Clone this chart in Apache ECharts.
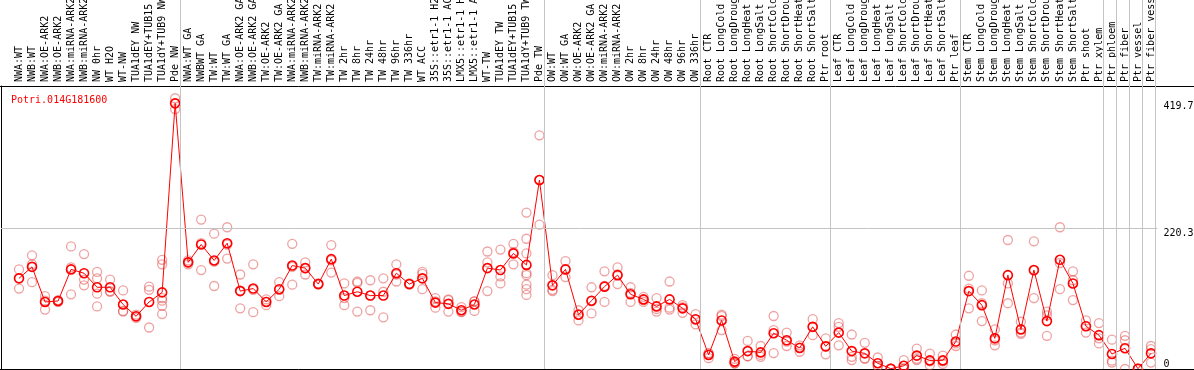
<!DOCTYPE html>
<html>
<head>
<meta charset="utf-8">
<script src="https://cdn.jsdelivr.net/npm/echarts@6/dist/echarts.min.js"></script>
<style>
html,body{margin:0;padding:0;background:#fff;}
#chart{width:1194px;height:370px;}
</style>
</head>
<body>
<div id="chart"></div>
<script>
// gene shown
var geneName = 'Potri.014G181600';

// sample names, left to right
var categories = [
  'NWA:WT','NWB:WT','NWA:OE-ARK2','NWB:OE-ARK2','NWA:miRNA-ARK2','NWB:miRNA-ARK2','NW 0hr','WT H2O','WT-NW',
  'TUA1dEY NW','TUA1dEY+TUB15 NW','TUA1dY+TUB9 NW','Pde NW',
  'NWA:WT GA','NWBWT GA','TW:WT','TW:WT GA','NWA:OE-ARK2 GA','NWB:OE-ARK2 GA','TW:OE-ARK2','TW:OE-ARK2 GA',
  'NWA:miRNA-ARK2','NWB:miRNA-ARK2','TW:miRNA-ARK2','TW:miRNA-ARK2','TW 2hr','TW 8hr','TW 24hr','TW 48hr',
  'TW 96hr','TW 336hr','WT ACC','35S::etr1-1 H2O','35S::etr1-1 ACC','LMX5::etr1-1 H2O','LMX5::etr1-1 ACC',
  'WT-TW','TUA1dEY TW','TUA1dEY+TUB15 TW','TUA1dY+TUB9 TW','Pde TW',
  'OW:WT','OW:WT GA','OW:OE-ARK2','OW:OE-ARK2 GA','OW:miRNA-ARK2','OW:miRNA-ARK2','OW 2hr','OW 8hr',
  'OW 24hr','OW 48hr','OW 96hr','OW 336hr',
  'Root CTR','Root LongCold','Root LongDrought','Root LongHeat','Root LongSalt','Root ShortCold',
  'Root ShortDrought','Root ShortHeat','Root ShortSalt','Ptr root',
  'Leaf CTR','Leaf LongCold','Leaf LongDrought','Leaf LongHeat','Leaf LongSalt','Leaf ShortCold',
  'Leaf ShortDrought','Leaf ShortHeat','Leaf ShortSalt','Ptr leaf',
  'Stem CTR','Stem LongCold','Stem LongDrought','Stem LongHeat','Stem LongSalt','Stem ShortCold',
  'Stem ShortDrought','Stem ShortHeat','Stem ShortSalt','Ptr shoot',
  'Ptr xylem','Ptr phloem','Ptr fiber','Ptr vessel','Ptr fiber vessel'
];

// mean expression per sample
var means = [
  142,160,105,106.5,156,150,128,128,101,82.5,
  105,120,416,167,195,170,197,122,126,105,
  125,162,158,133,172,115,121,115,115,150,
  133,142,104,102,92,101,158,155,181,163,
  296,131,156,85,107,129,147,117,109,98,
  109,95,78,22,76,11.5,28,26,56,45,
  33,66,35.5,57,28,24.5,9,0.5,5,21,
  13.5,13.5,43,122,100,48,147,62,155,75,
  171,134,67,53,23.5,32.5,0.5,24.5
];

// replicate values per sample
var replicates = [
  [156,142,126],[178,164,136],[114,107,93],[108,105,106],[192,159,117],[180,140,131],
  [152,142,118,98],[140,122,121],[123,91,90],[85,82,80],[129,124,65],[171,164,111,107,99,86],
  [424,416,407],[170,167,164],[234,197,155],[212,168,130],[222,195,173],[148,123,95],
  [164,124,89],[109,105,100],[136,124,114],[196,160,132],[167,158,148],[134,133,132],
  [194,170,151],[134,111,100],[137,135,90],[139,115,92],[142,121,81],[164,148,137],
  [134,133,132],[152,149,125],[111,106,96],[108,109,90],[97,89,90],[106,106,91],
  [184,167,122],[187,145,134],[196,183,164],[245,204,181,150,147,132,125,116],[366,296,226],
  [147,124,122],[169,156,144],[92,86,76],[128,106,87],[153,130,105],[159,148,133],
  [128,119,105],[113,108,105],[111,94,90],[137,96,93],[100,97,88],[86,77,70],
  [25,24,17],[85,83,61],[16,9,9],[44,20,20],[36,22,19],[83,61,25],[57,43,36],
  [37,34,27],[78,66,53],[48,35,23],[72,66,37],[54,19,14],[41,17,16],[18,5,4],
  [1,0,0],[14,1,0],[32,16,14],[24,12,6],[21,12,8],[54,40,36],[146,126,95],
  [123,103,75],[62,45,37],[202,134,103],[74,57,55],[200,154,111],[90,84,52],
  [222,166,125],[153,139,108],[76,67,57],[72,48,40],[46,13,10],[52,45,0],
  [1,0,0],[36,31,10]
];

// y tick labels
var yTickLabels = [220.3, 419.7];
var yZeroLabel = [0];
var gridLineValues = [220.3];

// index of first sample of each group (plus end)
var groupStarts = [0, 13, 41, 53, 63, 73, 84, 85, 86, 87, 88];

var yMax = 443.2;
var mono = 'DejaVu Sans Mono';

var repData = [];
replicates.forEach(function (vals, i) {
  vals.forEach(function (v) { repData.push([i, v]); });
});

var sepLines = groupStarts.map(function (k) { return { xAxis: k - 0.64 }; });
var hLines = gridLineValues.map(function (v) { return { yAxis: v }; });

var hiddenAxis = {
  axisLine: { show: false }, axisTick: { show: false },
  axisLabel: { show: false }, splitLine: { show: false }
};

var option = {
  animation: false,
  backgroundColor: '#fff',
  title: {
    text: geneName,
    left: 6, top: 90,
    textStyle: { color: '#ff0000', fontFamily: mono, fontSize: 10, fontWeight: 'normal' }
  },
  grid: [
    { left: 12.5, right: 36.5, top: 86, bottom: 1, outerBoundsMode: 'none' },   // data
    { left: 1, right: 36.5, top: 86, bottom: 1, outerBoundsMode: 'none' },      // frame + grid line
    { left: 12.5, right: 36.5, top: 0, bottom: 1, outerBoundsMode: 'none' },    // group separators
    { left: 0, right: 0, top: 86, bottom: 1, outerBoundsMode: 'none' }          // top / bottom rules
  ],
  xAxis: [
    {
      gridIndex: 0, type: 'category', data: categories, position: 'top',
      axisLine: { show: false }, axisTick: { show: false }, splitLine: { show: false },
      axisLabel: { interval: 0, rotate: 90, margin: 4, color: '#000', fontFamily: mono, fontSize: 10 }
    },
    Object.assign({ gridIndex: 1, type: 'value', min: 0, max: 1, show: false }, hiddenAxis),
    Object.assign({ gridIndex: 2, type: 'value', min: -0.5, max: 87.5, show: false }, hiddenAxis),
    {
      gridIndex: 3, type: 'value', min: 0, max: 1, position: 'bottom',
      axisLine: { show: true, onZero: false, lineStyle: { color: '#000', width: 1 } },
      axisTick: { show: false }, axisLabel: { show: false }, splitLine: { show: false }
    },
    {
      gridIndex: 3, type: 'value', min: 0, max: 1, position: 'top',
      axisLine: { show: true, onZero: false, lineStyle: { color: '#000', width: 1 } },
      axisTick: { show: false }, axisLabel: { show: false }, splitLine: { show: false }
    }
  ],
  yAxis: [
    {
      gridIndex: 0, type: 'value', min: 0, max: yMax, position: 'right',
      axisLine: { show: false }, axisTick: { show: false }, splitLine: { show: false },
      axisLabel: { customValues: yTickLabels, verticalAlign: 'top', margin: 6, color: '#000', fontFamily: mono, fontSize: 10 }
    },
    {
      gridIndex: 0, type: 'value', min: 0, max: yMax, position: 'right',
      axisLine: { show: false }, axisTick: { show: false }, splitLine: { show: false },
      axisLabel: { customValues: yZeroLabel, verticalAlign: 'bottom', margin: 6, color: '#000', fontFamily: mono, fontSize: 10 }
    },
    {
      gridIndex: 1, type: 'value', min: 0, max: yMax, position: 'left',
      axisLine: { show: true, onZero: false, lineStyle: { color: '#000', width: 1 } },
      axisTick: { show: false }, axisLabel: { show: false }, splitLine: { show: false }
    },
    Object.assign({ gridIndex: 2, type: 'value', min: 0, max: 1, show: false }, hiddenAxis),
    Object.assign({ gridIndex: 3, type: 'value', min: 0, max: 1, show: false }, hiddenAxis)
  ],
  series: [
    {
      type: 'line', xAxisIndex: 2, yAxisIndex: 3, data: [], z: 1, silent: true,
      markLine: {
        silent: true, symbol: 'none', label: { show: false },
        lineStyle: { color: '#c4c4c4', width: 1, type: 'solid' },
        data: sepLines
      }
    },
    {
      type: 'line', xAxisIndex: 1, yAxisIndex: 2, data: [], z: 1, silent: true,
      markLine: {
        silent: true, symbol: 'none', label: { show: false },
        lineStyle: { color: '#c4c4c4', width: 1, type: 'solid' },
        data: hLines
      }
    },
    {
      name: 'replicates', type: 'scatter', xAxisIndex: 0, yAxisIndex: 0, z: 2,
      symbol: 'circle', symbolSize: 9,
      itemStyle: { color: 'rgba(0,0,0,0)', borderColor: 'rgba(220,60,60,0.6)', borderWidth: 1.3 },
      data: repData
    },
    {
      name: 'mean', type: 'line', xAxisIndex: 0, yAxisIndex: 0, z: 3,
      symbol: 'circle', symbolSize: 9, showAllSymbol: true,
      lineStyle: { color: '#ff0000', width: 1 },
      itemStyle: { color: 'rgba(0,0,0,0)', borderColor: '#ff0000', borderWidth: 1.6 },
      data: means
    }
  ]
};

var chart = echarts.init(document.getElementById('chart'));
chart.setOption(option);
</script>
</body>
</html>
